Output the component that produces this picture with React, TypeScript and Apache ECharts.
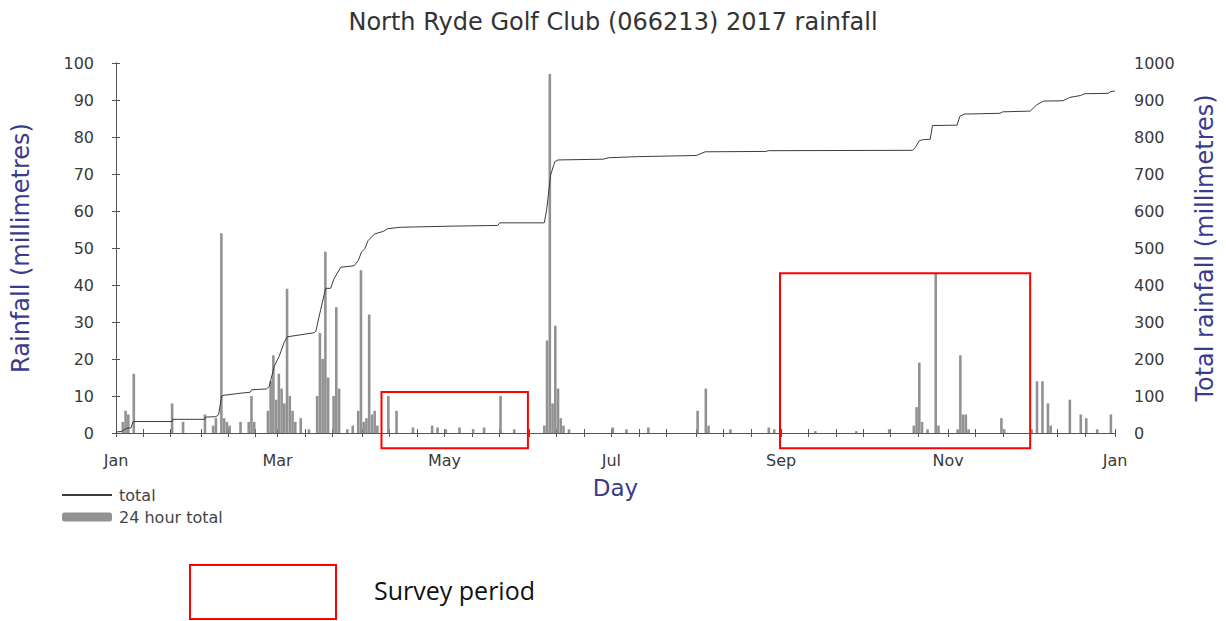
import React, { useEffect, useRef } from "react";
import * as echarts from "echarts";

// Month axis (2017, not a leap year): day-of-year index where each month starts
const monthNames = ["Jan", "Feb", "Mar", "Apr", "May", "Jun", "Jul", "Aug", "Sep", "Oct", "Nov", "Dec", "Jan"];
const monthStarts = [0, 31, 59, 90, 120, 151, 181, 212, 243, 273, 304, 334, 365];
const labelMonthIdx = [0, 2, 4, 6, 8, 10, 12];

// 24 hour totals (mm), day-of-year index (0 = 1 Jan)
const rainDays = [
  2, 3, 4, 6, 20, 24, 32, 35, 36, 38, 39, 40, 41, 45, 48, 49, 50,
  55, 56, 57, 58, 59, 60, 61, 62, 63, 64, 65, 67, 70,
  73, 74, 75, 76, 77, 79, 80, 81, 84, 86,
  88, 89, 90, 91, 92, 93, 94, 95,
  99, 102, 108, 115, 117, 120, 125, 130, 134, 140, 145,
  156, 157, 158, 159, 160, 161, 162, 163, 165,
  181, 186, 194, 212, 215, 216, 224, 238, 240, 255, 270, 282,
  291, 292, 293, 294, 296, 299, 300, 307, 308, 309, 310, 311, 323, 324,
  334, 336, 338, 340, 341, 348, 352, 354, 358, 363,
];
const rainMm = [
  3, 6, 5, 16, 8, 3, 5, 2, 4, 54, 4, 3, 2, 3, 3, 10, 3,
  6, 14, 21, 9, 16, 12, 8, 39, 10, 6, 3, 4, 1,
  10, 27, 20, 49, 15, 10, 34, 12, 1, 2,
  6, 44, 3, 4, 32, 5, 6, 2,
  10, 6, 1.5, 2, 1.5, 1, 1.5, 1, 1.5, 10, 1,
  2, 25, 97, 8, 29, 12, 4, 2, 1,
  1.5, 1, 1.5, 6, 12, 2, 1, 1.5, 1, 0.5, 0.5, 1,
  2, 7, 19, 3, 1, 43, 2, 1, 21, 5, 5, 1, 4, 1,
  1, 14, 14, 8, 2, 9, 5, 4, 1, 5,
];

// Cumulative total (mm)
const totalDays = [
  0, 0.3, 2, 4, 5.5, 6.3, 20.5, 20.8, 32.4, 32.7, 36.5, 37.5, 38.6, 39.5, 46, 49, 49.6, 55,
  56, 57.8, 59.6, 61.4, 62.6, 72.4, 73, 74.8, 76.6, 78.4, 79.6, 82.1, 87, 88.5, 89.7, 90.9, 92.1, 94.5,
  97.7, 99.2, 103.8, 122, 139.5, 140.2, 156.5, 157.4, 158.8, 160.3, 161.5, 178, 180, 191, 212, 215.3,
  237.5, 238.3, 291, 292, 293.5, 295, 297.5, 298.3, 307.3, 308.3, 310, 323, 324, 334, 336.4, 338.8,
  346, 348.5, 352.3, 354, 362.5, 363.5, 365,
];
const totalMm = [
  0, 3, 4, 13, 14, 31, 31, 37, 37, 43, 44, 50, 100, 102, 108, 110, 117, 119,
  126, 180, 207, 244, 260, 271, 275, 334, 391, 391, 416, 448, 452, 466, 489, 498, 520, 538,
  545, 552, 556, 559, 561, 568, 568, 606, 697, 733, 738, 740, 744, 747, 750, 760,
  761, 763, 764, 771, 790, 793, 794, 831, 832, 856, 862, 864, 868, 870, 887, 897,
  898, 907, 912, 917, 918, 923, 924,
];

// Survey periods (day-of-year) and box heights (left-axis mm)
const surveyStart = [97, 242.6];
const surveyEnd = [150.5, 334];
const surveyTop = [11.1, 43.2];
const surveyBottom = [-4.1, -4.1];

const FONT = "DejaVu Sans";
const NAVY = "#3b3b8c";

export default function App() {
  const ref = useRef<HTMLDivElement>(null);
  useEffect(() => {
    const chart = echarts.init(ref.current!, null, { renderer: "svg" });
    const tickVals: number[] = [];
    for (let m = 0; m < 12; m++) {
      tickVals.push(monthStarts[m], monthStarts[m] + 10, monthStarts[m] + 20);
    }
    tickVals.push(365);
    const labelVals = labelMonthIdx.map((i) => monthStarts[i]);
    const fmt = (v: number) => {
      const i = monthStarts.indexOf(v);
      return i >= 0 ? monthNames[i] : "";
    };
    const axisLine = { show: true, lineStyle: { color: "#555", width: 1 } };
    const tickLabel = { fontFamily: FONT, fontSize: 16, color: "#3a3a3a" };

    chart.setOption({
      animation: false,
      backgroundColor: "#fff",
      title: {
        text: "North Ryde Golf Club (066213) 2017 rainfall",
        left: "center",
        top: 5,
        textStyle: { fontFamily: FONT, fontSize: 24, fontWeight: "normal", color: "#333" },
      },
      legend: {
        data: [{ name: "total", itemStyle: { opacity: 0 } }, "24 hour total"],
        orient: "vertical",
        left: 56,
        top: 482,
        itemWidth: 50,
        itemHeight: 9,
        itemGap: 6,
        selectedMode: false,
        textStyle: { fontFamily: FONT, fontSize: 16, color: "#444", padding: [0, 0, 0, 2] },
      },
      grid: { left: 116, right: 111, top: 63, bottom: 188 },
      xAxis: [
        {
          type: "value",
          min: 0,
          max: 365,
          position: "bottom",
          name: "Day",
          nameLocation: "middle",
          nameGap: 43,
          nameTextStyle: { fontFamily: FONT, fontSize: 23, color: NAVY },
          axisLine,
          axisTick: { show: true, length: 4, customValues: tickVals, lineStyle: { color: "#555" } },
          axisLabel: { ...tickLabel, margin: 19, customValues: labelVals, formatter: fmt },
          splitLine: { show: false },
        },
        {
          type: "value",
          min: 0,
          max: 365,
          position: "top",
          axisLine,
          axisTick: { show: true, length: 4, customValues: tickVals, lineStyle: { color: "#555" } },
          axisLabel: { show: false },
          splitLine: { show: false },
        },
      ],
      yAxis: [
        {
          type: "value",
          min: 0,
          max: 100,
          interval: 10,
          position: "left",
          name: "Rainfall (millimetres)",
          nameLocation: "middle",
          nameRotate: 90,
          nameGap: 83,
          nameTextStyle: { fontFamily: FONT, fontSize: 24, color: NAVY },
          axisLine,
          axisTick: { show: true, length: 4, lineStyle: { color: "#555" } },
          axisLabel: { ...tickLabel, margin: 22 },
          splitLine: { show: false },
        },
        {
          type: "value",
          min: 0,
          max: 1000,
          interval: 100,
          position: "right",
          name: "Total rainfall (millimetres)",
          nameLocation: "middle",
          nameRotate: 90,
          nameGap: 78,
          nameTextStyle: { fontFamily: FONT, fontSize: 24, color: NAVY },
          axisLine,
          axisTick: { show: true, length: 4, lineStyle: { color: "#555" } },
          axisLabel: { ...tickLabel, margin: 19, formatter: (v: number) => String(v) },
          splitLine: { show: false },
        },
      ],
      series: [
        {
          name: "24 hour total",
          type: "bar",
          xAxisIndex: 0,
          yAxisIndex: 0,
          barWidth: 2.6,
          itemStyle: { color: "#929292" },
          data: rainDays.map((d, i) => [d + 0.5, rainMm[i]]),
        },
        {
          name: "total",
          type: "line",
          xAxisIndex: 0,
          yAxisIndex: 1,
          symbol: "none",
          lineStyle: { color: "#3c3c3c", width: 1 },
          itemStyle: { color: "#3c3c3c" },
          data: totalDays.map((d, i) => [d, totalMm[i]]),
          z: 3,
        },
      ],
    });

    const boxes = surveyStart.map((s, i) => {
      const p1 = chart.convertToPixel({ xAxisIndex: 0, yAxisIndex: 0 }, [s, surveyTop[i]]) as number[];
      const p2 = chart.convertToPixel({ xAxisIndex: 0, yAxisIndex: 0 }, [surveyEnd[i], surveyBottom[i]]) as number[];
      return {
        type: "rect",
        z: 100,
        shape: { x: p1[0], y: p1[1], width: p2[0] - p1[0], height: p2[1] - p1[1] },
        style: { fill: "none", stroke: "#ff0000", lineWidth: 2 },
      };
    });
    chart.setOption({
      graphic: [
        ...boxes,
        {
          type: "rect",
          z: 100,
          shape: { x: 190, y: 565, width: 146, height: 54 },
          style: { fill: "none", stroke: "#ff0000", lineWidth: 2 },
        },
        {
          type: "text",
          z: 100,
          x: 374,
          y: 590,
          style: {
            text: "Survey period",
            fontFamily: "Open Sans",
            fontSize: 25,
            fill: "#111",
            verticalAlign: "middle",
          },
        },
      ],
    });

    return () => chart.dispose();
  }, []);
  return (
    <div
      ref={ref}
      style={{ position: "fixed", left: 0, top: 0, width: 1226, height: 621, background: "#fff" }}
    />
  );
}
